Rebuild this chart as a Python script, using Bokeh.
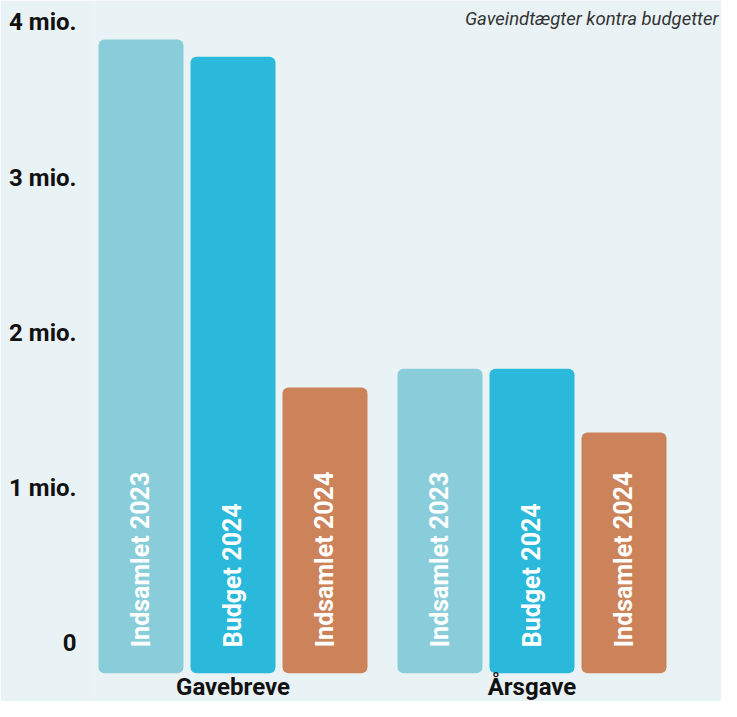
from bokeh.plotting import figure
from bokeh.models import Range1d, LinearAxis, FixedTicker, ColumnDataSource
from bokeh.core.properties import value
from bokeh.embed import file_html
from bokeh.resources import INLINE

# ---- data ----
title_text = "Gaveindtægter kontra budgetter"
groups = ["Gavebreve", "Årsgave"]
series = ["Indsamlet 2023", "Budget 2024", "Indsamlet 2024"]
series_colors = ["#88cdd9", "#2ab9db", "#cd8359"]
gavebreve = [4.08, 3.97, 1.84]   # mio. kr.
aarsgave = [1.96, 1.96, 1.55]    # mio. kr.
tick_vals = [0, 1, 2, 3, 4]
tick_labels = ["0", "1 mio.", "2 mio.", "3 mio.", "4 mio."]

# ---- layout / style ----
FONT = "Roboto"
BG = "#e9f2f5"
W, H = 721, 701
LEFT = 94
PITCH = 92.0          # px between bar centres
BAR_W = 85 / PITCH    # bar width in x units
GROUP_GAP = 0.25
PX_PER_MIO = 155.3
ZERO_PX = 672.7       # px from top of figure to the zero line
LABEL_SHIFT = 29.75 / PX_PER_MIO

x0_px = 140.5 - LEFT  # first bar centre from frame left
x_start = -x0_px / PITCH
x_end = (W - LEFT - x0_px) / PITCH
y_end = ZERO_PX / PX_PER_MIO
y_start = -(H - ZERO_PX) / PX_PER_MIO

xs, tops, labs, cols = [], [], [], []
for g, vals in enumerate([gavebreve, aarsgave]):
    for s, v in enumerate(vals):
        xs.append(g * (len(series) + GROUP_GAP) + s)
        tops.append(v)
        labs.append(series[s])
        cols.append(series_colors[s])
src = ColumnDataSource(dict(x=xs, top=tops, label=labs, color=cols,
                            zero=[0] * len(xs)))

group_x = [g * (len(series) + GROUP_GAP) + (len(series) - 1) / 2 for g in range(len(groups))]

p = figure(width=W, height=H, output_backend="svg", toolbar_location=None,
           x_range=Range1d(x_start, x_end), y_range=Range1d(y_start, y_end),
           x_axis_location=None, y_axis_location=None,
           min_border_left=LEFT, min_border_right=0, min_border_top=0, min_border_bottom=0)
p.background_fill_color = BG
p.border_fill_color = BG
p.outline_line_color = None
p.xgrid.visible = False
p.ygrid.visible = False

p.extra_y_ranges = {"lab": Range1d(y_start - LABEL_SHIFT, y_end - LABEL_SHIFT)}
yax = LinearAxis(y_range_name="lab", ticker=FixedTicker(ticks=tick_vals))
yax.major_label_overrides = {v: t for v, t in zip(tick_vals, tick_labels)}
yax.axis_line_color = None
yax.major_tick_line_color = None
yax.minor_tick_line_color = None
yax.major_tick_out = 0
yax.major_tick_in = 0
yax.major_label_standoff = 18
yax.major_label_text_font = FONT
yax.major_label_text_font_size = "24px"
yax.major_label_text_font_style = "bold"
yax.major_label_text_color = "#111111"
p.add_layout(yax, "left")

p.vbar(x="x", top="top", bottom=0, width=BAR_W, source=src,
       fill_color="color", line_color=None, border_radius=6)

p.text(x="x", y="zero", text="label", source=src, angle=1.5708,
       y_offset=-26, x_offset=0, text_align="left", text_baseline="middle",
       text_color="white", text_font=value(FONT), text_font_size="25px",
       text_font_style="bold")

p.text(x=group_x, y=[0] * len(groups), text=groups, y_offset=14,
       text_align="center", text_baseline="middle", text_color="#111111",
       text_font=value(FONT), text_font_size="24px", text_font_style="bold")

p.text(x=[x_end], y=[y_end], text=[title_text], x_offset=-3, y_offset=18,
       text_align="right", text_baseline="middle", text_color="#333333",
       text_font=value(FONT), text_font_size="18.5px", text_font_style="italic")

open("out.html", "w").write(file_html(p, INLINE))
